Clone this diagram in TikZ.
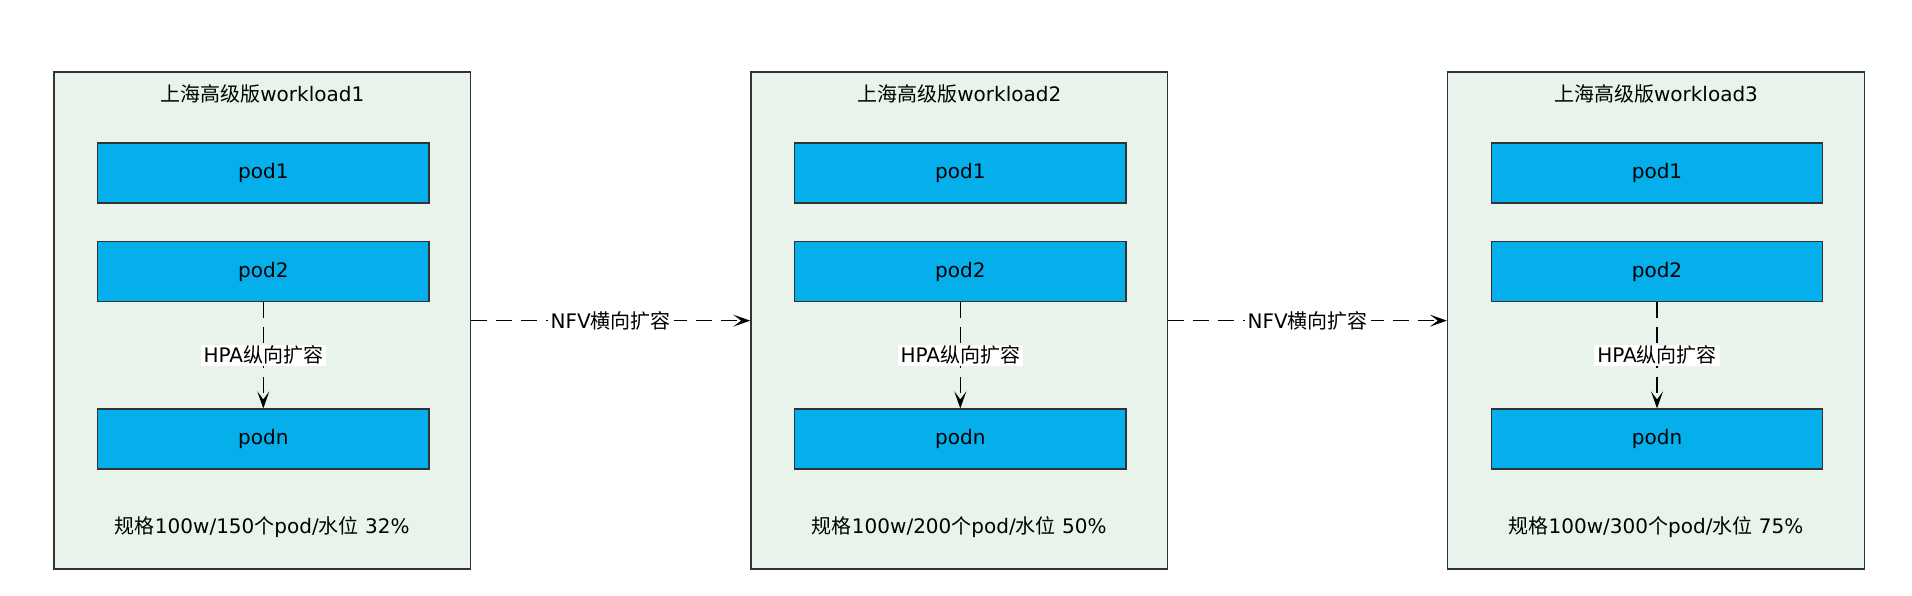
\documentclass[tikz,border=0pt]{standalone}
\usepackage{fontspec}
\setmainfont{DejaVu Sans}
\newfontfamily\cjk{Noto Sans CJK SC}
\usetikzlibrary{arrows.meta}
\definecolor{boxfill}{HTML}{E8F3EC}
\definecolor{podfill}{HTML}{05AFEC}
\definecolor{edge}{HTML}{333333}
\tikzset{
  wlbox/.style={draw=edge, line width=1.6pt, fill=boxfill, minimum width=416.7pt, minimum height=496.7pt, inner sep=0pt},
  podbox/.style={draw=edge, line width=1.6pt, fill=podfill, minimum width=331.3pt, minimum height=60pt, inner sep=0pt, font=\fontsize{20pt}{22pt}\selectfont},
  txt/.style={inner sep=0pt, font=\fontsize{20pt}{22pt}\selectfont},
  lbl/.style={fill=white, inner xsep=3pt, inner ysep=1pt, font=\fontsize{20pt}{22pt}\selectfont},
  conn/.style={draw=black, line width=1.3pt, dash pattern=on 16pt off 9pt, -{Stealth[length=17pt,width=12pt,inset=8pt]}}
}
\begin{document}
\begin{tikzpicture}[x=1pt,y=-1pt]
\useasboundingbox (0,0) rectangle (1912,596);
\foreach \i/\cx/\num/\pct in {1/262.3/150/32, 2/959.3/200/50, 3/1656/300/75}{
  \node[wlbox] (w\i) at (\cx,320.65) {};
  \node[txt] (t\i) at (\cx,94.3) {{\cjk 上海高级版}workload\i};
  \node[podbox] (pa\i) at (\cx+1,173.2) {pod1};
  \node[podbox] (pb\i) at (\cx+1,271.5) {pod2};
  \node[podbox] (pn\i) at (\cx+1,439.2) {podn};
  \node[txt] (s\i) at (\cx,526.7) {{\cjk 规格}100w/{\num}{\cjk 个}pod/{\cjk 水位} {\pct}\%};
  \draw[conn] (pb\i.south) -- node[lbl] (h\i) {HPA{\cjk 纵向扩容}} (pn\i.north);
}
\draw[conn] (w1.east) -- node[lbl] (n1) {NFV{\cjk 横向扩容}} (w2.west);
\draw[conn] (w2.east) -- node[lbl] (n2) {NFV{\cjk 横向扩容}} (w3.west);
\end{tikzpicture}
\end{document}
